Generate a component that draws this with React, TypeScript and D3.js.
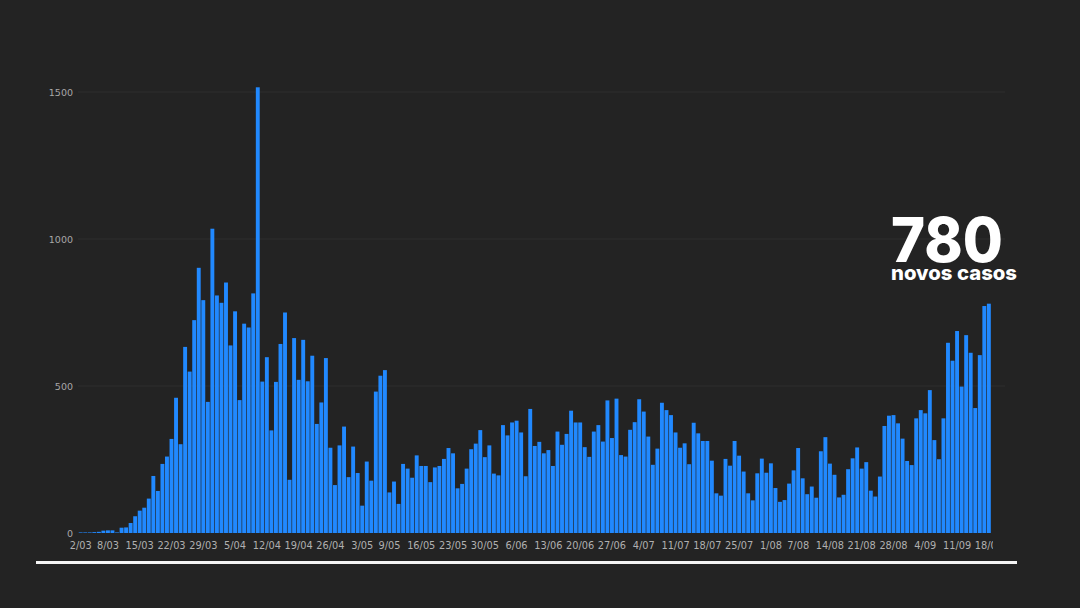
import React from "react";
import * as d3 from "d3";

const marValues = [2, 2, 2, 3, 4, 8, 9, 9, 2, 18, 19, 34, 57, 76, 86, 117, 194, 143, 235, 260, 320, 460, 302, 633, 549, 724, 902, 792, 446, 1035];
const aprValues = [808, 783, 852, 638, 754, 452, 712, 699, 815, 1516, 515, 598, 349, 514, 643, 750, 181, 663, 521, 657, 516, 603, 371, 444, 595, 290, 163, 298, 362, 190];
const mayValues = [294, 204, 93, 243, 178, 481, 535, 554, 138, 175, 99, 235, 219, 188, 264, 228, 228, 173, 223, 228, 252, 289, 271, 152, 167, 219, 285, 304, 350, 258, 298];
const junValues = [202, 196, 367, 332, 376, 382, 342, 193, 422, 296, 310, 271, 282, 228, 345, 300, 337, 416, 376, 376, 292, 259, 345, 367, 311, 451, 323, 457, 265, 260];
const julValues = [351, 377, 455, 413, 328, 232, 287, 443, 418, 401, 342, 290, 305, 234, 375, 339, 313, 313, 246, 135, 127, 252, 229, 313, 263, 209, 135, 111, 203, 253, 205];
const augValues = [237, 153, 106, 112, 168, 213, 289, 186, 132, 158, 120, 278, 326, 236, 198, 121, 130, 217, 254, 291, 219, 241, 144, 124, 192, 364, 399, 401, 373, 321, 245];
const sepValues = [231, 390, 418, 407, 486, 316, 251, 390, 647, 586, 687, 498, 673, 613, 425, 605, 772, 780];

const months = [
  { m: "03", start: 2, values: marValues },
  { m: "04", start: 1, values: aprValues },
  { m: "05", start: 1, values: mayValues },
  { m: "06", start: 1, values: junValues },
  { m: "07", start: 1, values: julValues },
  { m: "08", start: 1, values: augValues },
  { m: "09", start: 1, values: sepValues },
];

const tickLabels = ["2/03", "8/03", "15/03", "22/03", "29/03", "5/04", "12/04", "19/04", "26/04", "3/05", "9/05", "16/05", "23/05", "30/05", "6/06", "13/06", "20/06", "27/06", "4/07", "11/07", "18/07", "25/07", "1/08", "7/08", "14/08", "21/08", "28/08", "4/09", "11/09", "18/09"];
const yTicks = [0, 500, 1000, 1500];

const headline = "780";
const subline = "novos casos";

type Day = { label: string; value: number };
const days: Day[] = [];
months.forEach((mo) => {
  mo.values.forEach((v, i) => {
    days.push({ label: `${mo.start + i}/${mo.m}`, value: v });
  });
});

export default function App() {
  const W = 1080;
  const H = 608;
  const x = d3
    .scaleBand<string>()
    .domain(days.map((d) => d.label))
    .range([78.5, 78.5 + days.length * 4.54])
    .paddingInner(0.14)
    .paddingOuter(0.05);
  const y = d3.scaleLinear().domain([0, 1500]).range([533, 92]);

  return (
    <svg
      width={W}
      height={H}
      style={{ position: "fixed", left: 0, top: 0, display: "block" }}
    >
      <defs>
        <clipPath id="plotclip">
          <rect x={0} y={0} width={993} height={H} />
        </clipPath>
      </defs>
      <rect x={0} y={0} width={W} height={H} fill="#232323" />
      {yTicks.map((t) => (
        <g key={t}>
          {t > 0 && (
            <line x1={78} x2={1005} y1={y(t)} y2={y(t)} stroke="#2f2f2f" strokeWidth={1} />
          )}
          <text
            x={73}
            y={y(t) + 3.5}
            textAnchor="end"
            fontFamily="DejaVu Sans, Verdana, sans-serif"
            fontSize={9.5}
            fill="#a8a8a8"
          >
            {t}
          </text>
        </g>
      ))}
      {days.map((d) => (
        <rect
          key={d.label}
          x={x(d.label)}
          y={y(d.value)}
          width={x.bandwidth()}
          height={y(0) - y(d.value)}
          fill="#2189ff"
        />
      ))}
      <g clipPath="url(#plotclip)">
        {tickLabels.map((l) => (
          <text
            key={l}
            x={(x(l) ?? 0) + x.bandwidth() / 2}
            y={549}
            textAnchor="middle"
            fontFamily="DejaVu Sans, Verdana, sans-serif"
            fontSize={9.8}
            fill="#b0b0b0"
          >
            {l}
          </text>
        ))}
      </g>
      <line x1={36} x2={1017} y1={562.5} y2={562.5} stroke="#f4f4f4" strokeWidth={3} />
      <text
        x={891}
        y={262}
        fontFamily="Inter, Lato, sans-serif"
        fontWeight={800}
        fontSize={62}
        fill="#ffffff"
        textLength={112}
        lengthAdjust="spacingAndGlyphs"
      >
        {headline}
      </text>
      <text
        x={891}
        y={280}
        fontFamily="Inter, Lato, sans-serif"
        fontWeight={800}
        fontSize={20}
        fill="#ffffff"
        textLength={126}
        lengthAdjust="spacingAndGlyphs"
      >
        {subline}
      </text>
    </svg>
  );
}
